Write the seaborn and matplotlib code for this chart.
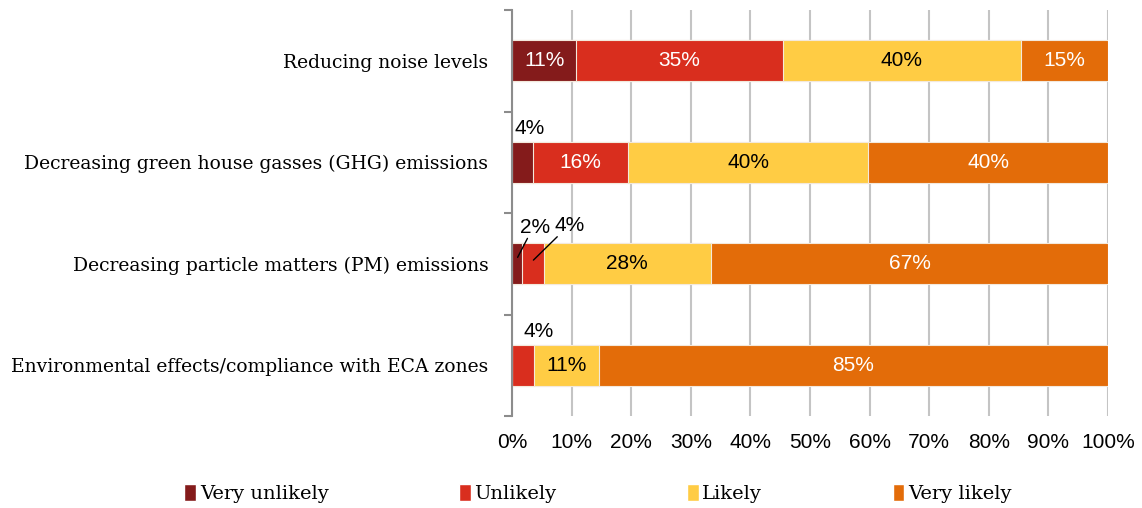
import numpy as np
import pandas as pd
import seaborn as sns
import matplotlib.pyplot as plt
from matplotlib.patches import Patch

# Data (percent of respondents)
categories = [
    "Reducing noise levels",
    "Decreasing green house gasses (GHG) emissions",
    "Decreasing particle matters (PM) emissions",
    "Environmental effects/compliance with ECA zones",
]
answers = ["Very unlikely", "Unlikely", "Likely", "Very likely"]
very_unlikely = [10.8, 3.6, 1.7, 0.0]
unlikely = [34.6, 15.9, 3.6, 3.7]
likely = [40.0, 40.3, 28.1, 10.9]
very_likely = [14.6, 40.2, 66.6, 85.4]

colors = ["#841b1b", "#d92e1e", "#ffcc44", "#e36c09"]
text_colors = ["white", "white", "black", "white"]

df = pd.DataFrame({"category": categories, "Very unlikely": very_unlikely,
                   "Unlikely": unlikely, "Likely": likely, "Very likely": very_likely})
cum = df[answers].cumsum(axis=1)

sns.set_style("white")
plt.rcParams["font.family"] = ["Liberation Sans", "DejaVu Sans"]
plt.rcParams["text.color"] = "black"
plt.rcParams["xtick.color"] = "black"
plt.rcParams["ytick.color"] = "black"
serif = "DejaVu Serif"

fig = plt.figure(figsize=(11.42, 5.08), dpi=100)
ax = fig.add_axes([0.4483, 0.1811, 0.5219, 0.7992])

# stacked bars: draw cumulative totals from the widest down
for ans, col in reversed(list(zip(answers, colors))):
    sns.barplot(x=cum[ans], y=df["category"], orient="h", color=col, saturation=1,
                width=0.4, edgecolor="#f3e9dc", linewidth=0.8, ax=ax, zorder=2)

# segment labels
for i in range(len(categories)):
    for j, ans in enumerate(answers):
        v = df.loc[i, ans]
        if v < 5:
            continue
        mid = cum.loc[i, ans] - v / 2
        ax.text(mid, i, f"{v:.0f}%", ha="center", va="center", fontsize=15,
                color=text_colors[j], zorder=3)

# small segments labelled outside
ax.text(3.0, 0.67, "4%", ha="center", va="center", fontsize=15, zorder=3)
ax.text(3.9, 1.64, "2%", ha="center", va="center", fontsize=15, zorder=3)
ax.text(9.6, 1.62, "4%", ha="center", va="center", fontsize=15, zorder=3)
ax.plot([0.95, 2.6], [1.937, 1.75], color="black", lw=1, zorder=3)
ax.plot([3.6, 7.6], [1.964, 1.734], color="black", lw=1, zorder=3)
ax.text(4.4, 2.665, "4%", ha="center", va="center", fontsize=15, zorder=3)

ax.set_xlim(0, 100)
ax.set_ylim(3.5, -0.5)
ax.set_xticks(np.arange(0, 101, 10))
ax.set_xticklabels([f"{t}%" for t in range(0, 101, 10)], fontsize=15)
ax.set_xlabel("")
ax.set_ylabel("")
ax.grid(axis="x", color="#c4c4c4", lw=1.5, zorder=0)
ax.set_axisbelow(True)
for s in ["top", "right", "bottom"]:
    ax.spines[s].set_visible(False)
ax.spines["left"].set_color("#8c8c8c")
ax.spines["left"].set_linewidth(1.5)
ax.tick_params(axis="x", length=0, pad=12)
ax.tick_params(axis="y", which="major", length=0, pad=17)
ax.set_yticks(np.arange(-0.5, 4, 1), minor=True)
ax.tick_params(axis="y", which="minor", length=6, width=1.5, color="#8c8c8c", left=True)
for lab in ax.get_yticklabels():
    lab.set_fontfamily(serif)
    lab.set_fontsize(13.5)

handles = [Patch(facecolor=c, label=a) for a, c in zip(answers, colors)]
leg = fig.legend(handles=handles, loc="center", bbox_to_anchor=(0.5236, 0.028), ncol=4,
                 frameon=False, handlelength=0.6, handleheight=0.9, handletextpad=0.2,
                 columnspacing=6.7, prop={"family": serif, "size": 14})

fig.savefig("out.png", dpi=100)
